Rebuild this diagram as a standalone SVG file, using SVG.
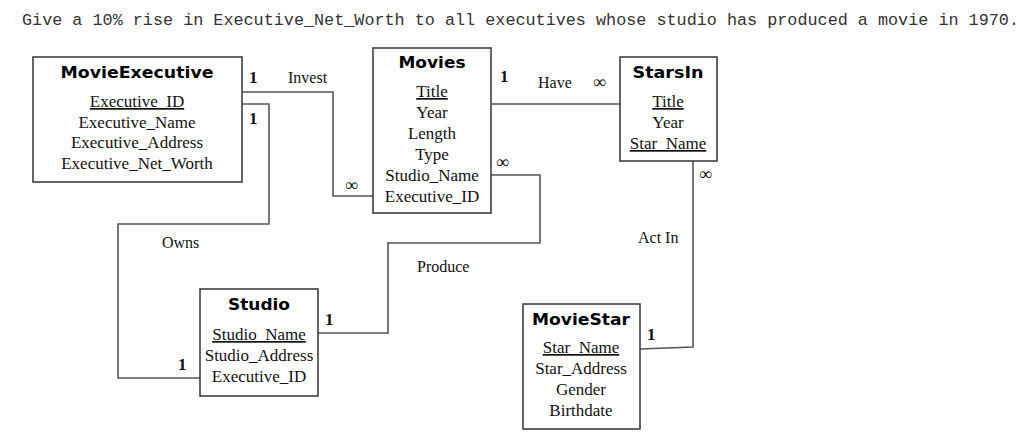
<svg xmlns="http://www.w3.org/2000/svg" width="1024" height="440" viewBox="0 0 1024 440">
<style>
.box{fill:#fff;stroke:#333;stroke-width:1.5}
.ttl{font-family:"DejaVu Sans","Liberation Sans",sans-serif;font-weight:bold;font-size:15px;fill:#000;text-anchor:middle}
.att{font-family:"Liberation Serif","Times New Roman",serif;font-size:17px;fill:#111;text-anchor:middle}
.lbl{font-family:"Liberation Serif","Times New Roman",serif;font-size:16px;fill:#111}
.inf{font-family:"Liberation Serif","Times New Roman",serif;font-size:18px;fill:#111}
.one{font-family:"Liberation Serif","Times New Roman",serif;font-size:17px;font-weight:bold;fill:#111}
.u{text-decoration:underline}
.con{fill:none;stroke:#555;stroke-width:1.6}
</style>
<rect width="1024" height="440" fill="#fff"/>
<text x="22" y="25" font-family="'Liberation Mono','Courier New',monospace" font-size="16.8" fill="#333">Give a 10% rise in Executive_Net_Worth to all executives whose studio has produced a movie in 1970.</text>

<g id="connectors">
<polyline class="con" points="242,92 333,92 333,196 373,196"/>
<polyline class="con" points="242,104 269,104 269,224 118,224 118,378 200,378"/>
<polyline class="con" points="491,175 540,175 540,243 388,243 388,333 318,333"/>
<polyline class="con" points="491,104 620,104"/>
<polyline class="con" points="693,161 693,347 640,349"/>
<text class="one" x="249" y="83">1</text>
<text class="lbl" x="288" y="83">Invest</text>
<text class="inf" x="345" y="191">∞</text>
<text class="one" x="249" y="124">1</text>
<text class="lbl" x="162" y="248">Owns</text>
<text class="one" x="178" y="370">1</text>
<text class="inf" x="496" y="168">∞</text>
<text class="lbl" x="417" y="272">Produce</text>
<text class="one" x="325" y="325">1</text>
<text class="one" x="500" y="82">1</text>
<text class="lbl" x="538" y="88">Have</text>
<text class="inf" x="593" y="88">∞</text>
<text class="inf" x="699" y="180">∞</text>
<text class="lbl" x="638" y="243">Act In</text>
<text class="one" x="647" y="340">1</text>
</g>

<g id="MovieExecutive">
<rect class="box" x="33" y="57" width="209" height="125"/>
<text class="ttl" x="137" y="78" textLength="153" lengthAdjust="spacingAndGlyphs">MovieExecutive</text>
<text class="att u" x="137" y="107">Executive_ID</text>
<text class="att" x="137" y="128">Executive_Name</text>
<text class="att" x="137" y="148">Executive_Address</text>
<text class="att" x="137" y="169">Executive_Net_Worth</text>
</g>

<g id="Movies">
<rect class="box" x="373" y="48" width="118" height="165"/>
<text class="ttl" x="432" y="68" textLength="67" lengthAdjust="spacingAndGlyphs">Movies</text>
<text class="att u" x="432" y="97">Title</text>
<text class="att" x="432" y="118">Year</text>
<text class="att" x="432" y="139">Length</text>
<text class="att" x="432" y="160">Type</text>
<text class="att" x="432" y="181">Studio_Name</text>
<text class="att" x="432" y="202">Executive_ID</text>
</g>

<g id="StarsIn">
<rect class="box" x="620" y="57" width="97" height="104"/>
<text class="ttl" x="668" y="78" textLength="71" lengthAdjust="spacingAndGlyphs">StarsIn</text>
<text class="att u" x="668" y="107">Title</text>
<text class="att" x="668" y="128">Year</text>
<text class="att u" x="668" y="149">Star_Name</text>
</g>

<g id="Studio">
<rect class="box" x="200" y="289" width="118" height="107"/>
<text class="ttl" x="259" y="310" textLength="62" lengthAdjust="spacingAndGlyphs">Studio</text>
<text class="att u" x="259" y="340">Studio_Name</text>
<text class="att" x="259" y="361">Studio_Address</text>
<text class="att" x="259" y="382">Executive_ID</text>
</g>

<g id="MovieStar">
<rect class="box" x="523" y="304" width="117" height="125"/>
<text class="ttl" x="581" y="325" textLength="98" lengthAdjust="spacingAndGlyphs">MovieStar</text>
<text class="att u" x="581" y="353">Star_Name</text>
<text class="att" x="581" y="374">Star_Address</text>
<text class="att" x="581" y="395">Gender</text>
<text class="att" x="581" y="416">Birthdate</text>
</g>
</svg>
